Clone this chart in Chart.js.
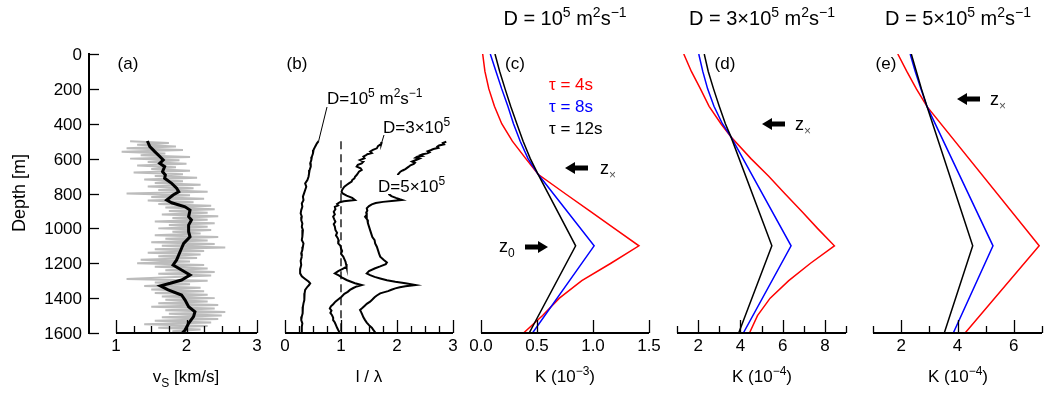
<!DOCTYPE html>
<html>
<head>
<meta charset="utf-8">
<script src="https://cdn.jsdelivr.net/npm/chart.js@4.4.1/dist/chart.umd.min.js"></script>
<style>
  body { margin: 0; background: #fff; }
  #wrap { position: relative; width: 1050px; height: 394px; }
  #wrap canvas { position: absolute; left: 0; top: 0; }
</style>
</head>
<body>
<div id="wrap">
  <canvas id="pa" width="1050" height="394"></canvas>
  <canvas id="pb" width="1050" height="394"></canvas>
  <canvas id="pc" width="1050" height="394"></canvas>
  <canvas id="pd" width="1050" height="394"></canvas>
  <canvas id="pe" width="1050" height="394"></canvas>
</div>
<script>
// ---- data (depth in m) ----
const depthMin = 0;
const depthMax = 1600;

// (a) shear-wave velocity: raw log (grey) and smoothed (black)
const vsLogDepth = [500,510,520,530,540,550,560,570,580,590,600,610,620,630,640,650,660,670,680,690,
  700,710,720,730,740,750,760,770,780,790,800,810,820,830,840,850,860,870,880,890,
  900,910,920,930,940,950,960,970,980,990,1000,1010,1020,1030,1040,1050,1060,1070,1080,1090,
  1100,1110,1120,1130,1140,1150,1160,1170,1180,1190,1200,1210,1220,1230,1240,1250,1260,1270,1280,1290,
  1300,1310,1320,1330,1340,1350,1360,1370,1380,1390,1400,1410,1420,1430,1440,1450,1460,1470,1480,1490,
  1500,1510,1520,1530,1540,1550,1560,1570,1580,1590,1600];
const vsLog = [1.20,1.75,1.30,1.85,1.15,1.95,1.08,1.70,1.35,2.05,1.20,1.90,1.45,2.00,1.30,1.85,1.50,2.05,1.25,1.95,
  1.55,2.15,1.40,1.95,1.55,2.20,1.45,2.10,1.60,2.30,1.15,2.05,1.50,2.25,1.45,2.10,1.60,2.35,1.70,2.40,
  1.75,2.30,1.65,2.45,1.80,2.30,1.55,2.40,1.75,2.30,1.60,2.35,1.80,2.20,1.55,2.45,1.70,2.30,1.50,2.40,
  1.65,2.55,1.55,2.25,1.45,2.20,1.60,2.15,1.35,2.05,1.30,2.25,1.55,2.30,1.70,2.40,1.60,2.35,1.75,1.15,
  2.30,1.55,2.05,1.40,2.20,1.50,2.25,1.55,2.30,1.65,2.40,1.70,2.30,1.60,2.45,1.50,2.40,1.70,2.55,1.75,
  2.50,1.65,2.45,1.55,2.35,1.40,2.30,1.60,2.20,1.80,2.05];
const vsSmoothDepth = [499,531,560,589,608,627,646,675,694,713,742,770,790,809,837,853,876,895,933,952,981,
  1019,1048,1086,1114,1181,1210,1239,1267,1296,1315,1330,1353,1382,1411,1449,1478,1506,1544,1583,1600];
const vsSmooth = [1.445,1.48,1.55,1.625,1.67,1.62,1.69,1.66,1.70,1.69,1.79,1.86,1.89,1.81,1.72,1.79,1.98,2.05,2.03,2.07,2.03,
  2.03,2.05,1.96,1.93,1.86,1.81,1.93,2.05,1.93,1.77,1.63,1.74,1.93,1.98,2.03,2.12,2.10,2.03,1.98,1.94];

// (b) l / lambda for three diffusivities, [depth, value]
const lamD1 = [[500,0.60],[512,0.57],[530,0.54],[550,0.51],[570,0.50],[589,0.48],[608,0.47],[627,0.45],[646,0.46],[665,0.44],
  [685,0.43],[704,0.42],[723,0.40],[742,0.36],[761,0.38],[780,0.36],[799,0.34],[818,0.32],[838,0.33],[857,0.30],
  [876,0.31],[895,0.29],[914,0.28],[933,0.30],[952,0.29],[972,0.31],[991,0.30],[1010,0.32],[1029,0.31],[1048,0.31],
  [1067,0.30],[1086,0.33],[1105,0.32],[1124,0.31],[1143,0.29],[1162,0.30],[1186,0.28],[1210,0.29],[1234,0.27],[1258,0.27],
  [1275,0.30],[1290,0.36],[1305,0.42],[1315,0.45],[1325,0.43],[1335,0.40],[1353,0.36],[1372,0.35],[1392,0.34],[1411,0.35],
  [1430,0.33],[1449,0.32],[1468,0.31],[1487,0.32],[1506,0.30],[1526,0.29],[1545,0.31],[1564,0.30],[1583,0.30],[1600,0.30]];
const lamD3 = [[505,1.73],[515,1.72],[528,1.66],[541,1.64],[550,1.57],[560,1.52],[568,1.55],[575,1.47],[582,1.44],[589,1.40],
  [598,1.42],[608,1.34],[617,1.40],[627,1.37],[636,1.30],[646,1.28],[655,1.35],[665,1.37],[675,1.32],[685,1.30],
  [694,1.28],[704,1.25],[713,1.24],[723,1.20],[732,1.19],[742,1.14],[751,1.10],[761,1.06],[770,1.04],[780,1.02],
  [790,1.01],[800,1.03],[812,1.10],[825,1.20],[837,1.25],[845,1.05],[850,0.98],[860,0.93],[868,0.95],[876,0.89],
  [890,0.90],[905,0.87],[920,0.89],[933,0.86],[948,0.88],[962,0.90],[976,0.87],[990,0.89],[1009,0.90],[1025,0.93],
  [1040,0.91],[1055,0.94],[1070,0.96],[1086,0.95],[1100,0.99],[1115,1.00],[1130,1.02],[1146,1.00],[1162,1.04],[1176,1.06],
  [1190,1.08],[1205,1.09],[1220,1.10],[1232,1.03],[1245,0.95],[1258,0.89],[1270,0.96],[1282,1.02],[1296,1.10],[1306,1.18],
  [1315,1.25],[1325,1.37],[1333,1.28],[1342,1.22],[1353,1.16],[1364,1.12],[1375,1.06],[1392,1.01],[1405,0.96],[1420,0.90],
  [1435,0.86],[1447,0.82],[1459,0.80],[1472,0.83],[1485,0.81],[1498,0.84],[1512,0.86],[1526,0.86],[1540,0.89],[1555,0.91],
  [1570,0.93],[1583,0.95],[1600,0.98]];
const lamD5 = [[503,2.88],[510,2.82],[518,2.84],[525,2.75],[531,2.72],[538,2.74],[545,2.65],[552,2.60],[558,2.55],[564,2.58],
  [570,2.54],[575,2.46],[580,2.42],[585,2.45],[589,2.36],[595,2.33],[600,2.40],[608,2.34],[617,2.27],[624,2.32],
  [630,2.30],[638,2.24],[646,2.21],[653,2.18],[660,2.15],[668,2.10],[675,2.06],[690,2.02],[710,2.00],[730,1.98],
  [750,1.95],[770,1.92],[790,1.88],[805,1.86],[815,1.90],[825,1.98],[833,2.05],[837,2.09],[842,1.95],[848,1.75],
  [855,1.62],[862,1.55],[872,1.50],[885,1.46],[898,1.47],[910,1.45],[922,1.46],[933,1.43],[950,1.47],[970,1.48],
  [990,1.50],[1010,1.52],[1030,1.54],[1050,1.56],[1068,1.60],[1086,1.61],[1105,1.64],[1125,1.66],[1145,1.68],[1162,1.70],
  [1180,1.76],[1195,1.82],[1205,1.80],[1218,1.70],[1230,1.60],[1245,1.50],[1258,1.46],[1268,1.52],[1278,1.60],[1287,1.70],
  [1297,1.82],[1306,1.97],[1315,2.15],[1325,2.33],[1332,2.15],[1338,2.05],[1344,1.97],[1352,1.90],[1360,1.84],[1367,1.76],
  [1373,1.70],[1385,1.64],[1395,1.60],[1408,1.56],[1420,1.52],[1433,1.46],[1445,1.42],[1457,1.38],[1468,1.34],[1480,1.36],
  [1495,1.38],[1510,1.40],[1526,1.43],[1540,1.46],[1555,1.50],[1570,1.55],[1583,1.58],[1600,1.62]];
const lamRef = [[500,1],[1600,1]];

// (c) D = 1e5, K in 1e-3
const cRedDepth = [0,100,200,300,400,500,600,690,800,900,1000,1100,1200,1300,1400,1500,1600];
const cRed = [0.015,0.035,0.07,0.12,0.185,0.28,0.40,0.51,0.75,0.97,1.19,1.41,1.16,0.90,0.70,0.55,0.38];
const cBlueDepth = [0,100,200,300,400,500,600,690,1100,1600];
const cBlue = [0.083,0.134,0.185,0.24,0.29,0.35,0.42,0.51,1.01,0.46];
const cBlackDepth = [0,100,200,300,400,500,600,690,1100,1600];
const cBlack = [0.125,0.167,0.215,0.265,0.32,0.376,0.44,0.51,0.845,0.43];

// (d) D = 3e5, K in 1e-4
const dRedDepth = [0,100,200,300,400,474,600,700,800,900,1000,1100,1200,1300,1400,1500,1600];
const dRed = [1.32,1.68,2.11,2.52,3.08,3.55,4.50,5.33,6.10,6.89,7.65,8.45,7.32,6.29,5.41,4.81,4.43];
const dBlueDepth = [0,100,200,300,400,474,1100,1600];
const dBlue = [2.03,2.22,2.45,2.75,3.15,3.55,6.40,4.14];
const dBlackDepth = [0,100,200,300,400,474,1100,1600];
const dBlack = [2.29,2.48,2.73,3.0,3.29,3.55,5.49,3.92];

// (e) D = 5e5, K in 1e-4
const eRedDepth = [0,100,200,302,1100,1600];
const eRed = [1.88,2.20,2.54,2.92,6.90,4.27];
const eBlueDepth = [0,100,200,302,1100,1600];
const eBlue = [2.32,2.50,2.70,2.92,5.26,3.85];
const eBlackDepth = [0,100,200,302,1100,1600];
const eBlack = [2.36,2.54,2.72,2.92,4.54,3.53];

// ---- helpers ----
const FONT = '"Liberation Sans", Arial, Helvetica, sans-serif';
const RED = '#ff0000', BLUE = '#0000ff', GREY = '#bcbcbc';

const fromArrays = (depths, vals) => depths.map((d, i) => ({x: vals[i], y: d}));
const fromPairs = pairs => pairs.map(p => ({x: p[1], y: p[0]}));

function line(data, color, width, extra) {
  return Object.assign({data, borderColor: color, borderWidth: width, showLine: true,
    pointRadius: 0, fill: false, tension: 0}, extra || {});
}

// text with super/subscripts: parts = [[text, shift]], shift 1 = sup, -1 = sub
function rich(ctx, x, y, parts, size, align, color) {
  ctx.save();
  ctx.textBaseline = 'alphabetic';
  ctx.textAlign = 'left';
  const small = Math.round(size * 0.68);
  const fontOf = p => (p[1] ? small : size) + 'px ' + FONT;
  let w = 0;
  parts.forEach(p => { ctx.font = fontOf(p); w += ctx.measureText(p[0]).width; });
  let cx = align === 'center' ? x - w / 2 : align === 'right' ? x - w : x;
  parts.forEach(p => {
    ctx.font = fontOf(p);
    ctx.fillStyle = p[2] || color || '#000';
    const dy = p[1] === 1 ? -size * 0.42 : p[1] === -1 ? size * 0.28 : 0;
    ctx.fillText(p[0], cx, y + dy);
    cx += ctx.measureText(p[0]).width;
  });
  ctx.restore();
  return w;
}

function arrow(ctx, tail, head, y) {
  const dir = Math.sign(head - tail);
  const hl = 10, hw = 6, sw = 2.5;
  ctx.save();
  ctx.fillStyle = '#000';
  ctx.beginPath();
  ctx.moveTo(tail, y - sw);
  ctx.lineTo(head - dir * hl, y - sw);
  ctx.lineTo(head - dir * hl, y - hw);
  ctx.lineTo(head, y);
  ctx.lineTo(head - dir * hl, y + hw);
  ctx.lineTo(head - dir * hl, y + sw);
  ctx.lineTo(tail, y + sw);
  ctx.closePath();
  ctx.fill();
  ctx.restore();
}

function zLabel(ctx, x, y, sub) {
  rich(ctx, x, y, [['z', 0], [sub, -1, sub === '\u00d7' ? '#555' : '#000']], 18, 'left');
}

// per-panel axis style and annotations
const frames = {
  pa: {
    yAxisAt: 89,
    major: v => Number.isInteger(v),
    draw(ctx, x, y) {
      rich(ctx, 128, 69, [['(a)', 0]], 17, 'center');
      rich(ctx, 186, 382, [['v', 0], ['S', -1], [' [km/s]', 0]], 17, 'center');
      ctx.save();
      ctx.translate(20, 193);
      ctx.rotate(-Math.PI / 2);
      ctx.font = '18px ' + FONT;
      ctx.fillStyle = '#000';
      ctx.textAlign = 'center';
      ctx.textBaseline = 'middle';
      ctx.fillText('Depth [m]', 0, 0);
      ctx.restore();
    }
  },
  pb: {
    major: v => Number.isInteger(v),
    draw(ctx, x, y) {
      rich(ctx, 297, 69, [['(b)', 0]], 17, 'center');
      rich(ctx, 369, 382, [['l / \u03bb', 0]], 17, 'center');
      ctx.save();
      ctx.strokeStyle = '#000';
      ctx.lineWidth = 1;
      ctx.beginPath();
      ctx.moveTo(x.getPixelForValue(lamD1[0][1]), y.getPixelForValue(lamD1[0][0]));
      ctx.lineTo(327, 107);
      ctx.moveTo(x.getPixelForValue(lamD3[0][1]), y.getPixelForValue(lamD3[0][0]));
      ctx.lineTo(384, 135);
      ctx.stroke();
      ctx.fillStyle = '#fff';
      ctx.fillRect(377, 175, 70, 19);
      ctx.restore();
      rich(ctx, 327, 104, [['D=10', 0], ['5', 1], [' m', 0], ['2', 1], ['s', 0], ['\u22121', 1]], 17, 'left');
      rich(ctx, 383, 133, [['D=3\u00d710', 0], ['5', 1]], 17, 'left');
      rich(ctx, 378, 192, [['D=5\u00d710', 0], ['5', 1]], 17, 'left');
    }
  },
  pc: {
    major: () => true,
    draw(ctx, x, y) {
      rich(ctx, 565, 25, [['D = 10', 0], ['5', 1], [' m', 0], ['2', 1], ['s', 0], ['\u22121', 1]], 20, 'center');
      rich(ctx, 515, 69, [['(c)', 0]], 17, 'center');
      rich(ctx, 549, 90, [['\u03c4 = 4s', 0]], 17, 'left', RED);
      rich(ctx, 549, 112, [['\u03c4 = 8s', 0]], 17, 'left', BLUE);
      rich(ctx, 549, 134, [['\u03c4 = 12s', 0]], 17, 'left', '#000');
      arrow(ctx, 588, 565, 168);
      zLabel(ctx, 600, 174, '\u00d7');
      arrow(ctx, 525, 548, 247);
      zLabel(ctx, 499, 252, '0');
      rich(ctx, 565, 382, [['K (10', 0], ['\u22123', 1], [')', 0]], 17, 'center');
    }
  },
  pd: {
    major: v => v % 2 === 0,
    draw(ctx, x, y) {
      rich(ctx, 762, 25, [['D = 3\u00d710', 0], ['5', 1], [' m', 0], ['2', 1], ['s', 0], ['\u22121', 1]], 20, 'center');
      rich(ctx, 725, 69, [['(d)', 0]], 17, 'center');
      arrow(ctx, 785, 762, 124);
      zLabel(ctx, 795, 130, '\u00d7');
      rich(ctx, 762, 382, [['K (10', 0], ['\u22124', 1], [')', 0]], 17, 'center');
    }
  },
  pe: {
    major: v => v % 2 === 0,
    draw(ctx, x, y) {
      rich(ctx, 958, 25, [['D = 5\u00d710', 0], ['5', 1], [' m', 0], ['2', 1], ['s', 0], ['\u22121', 1]], 20, 'center');
      rich(ctx, 886, 69, [['(e)', 0]], 17, 'center');
      arrow(ctx, 980, 957, 99);
      zLabel(ctx, 990, 105, '\u00d7');
      rich(ctx, 958, 382, [['K (10', 0], ['\u22124', 1], [')', 0]], 17, 'center');
    }
  }
};

// detached axes with inward ticks, drawn from the chart's own scales
const framePlugin = {
  id: 'frame',
  afterDraw(chart) {
    const {ctx, scales: {x, y}} = chart;
    const cfg = frames[chart.canvas.id];
    const yb = y.getPixelForValue(depthMax);
    ctx.save();
    ctx.strokeStyle = '#000';
    ctx.lineWidth = 2;
    ctx.beginPath();
    ctx.moveTo(x.getPixelForValue(x.min), yb);
    ctx.lineTo(x.getPixelForValue(x.max), yb);
    ctx.stroke();
    ctx.lineWidth = 1.3;
    x.ticks.forEach(t => {
      const px = Math.round(x.getPixelForValue(t.value)) + 0.5;
      const len = cfg.major(t.value) ? 13 : 7;
      ctx.beginPath();
      ctx.moveTo(px, yb);
      ctx.lineTo(px, yb - len);
      ctx.stroke();
    });
    if (cfg.yAxisAt) {
      const xa = cfg.yAxisAt;
      ctx.lineWidth = 2;
      ctx.beginPath();
      ctx.moveTo(xa, y.getPixelForValue(depthMin) - 1);
      ctx.lineTo(xa, yb + 1);
      ctx.stroke();
      ctx.lineWidth = 1.3;
      ctx.font = '17px ' + FONT;
      ctx.fillStyle = '#000';
      ctx.textAlign = 'right';
      ctx.textBaseline = 'middle';
      y.ticks.forEach(t => {
        const py = Math.round(y.getPixelForValue(t.value)) + 0.5;
        ctx.beginPath();
        ctx.moveTo(xa, py);
        ctx.lineTo(xa + 10, py);
        ctx.stroke();
        ctx.fillText(String(t.value), xa - 7, py + 1);
      });
    }
    cfg.draw(ctx, x, y);
    ctx.restore();
  }
};

function panel(id, left, right, xs, datasets) {
  return new Chart(document.getElementById(id), {
    type: 'scatter',
    data: {datasets},
    options: {
      responsive: false,
      animation: false,
      events: [],
      layout: {padding: {left: left, right: 1050 - right, top: 54, bottom: 0}},
      plugins: {legend: {display: false}, tooltip: {enabled: false}},
      scales: {
        x: {
          type: 'linear', position: 'bottom', min: xs.min, max: xs.max,
          grid: {display: false, drawTicks: false}, border: {display: false},
          ticks: {stepSize: xs.step, autoSkip: false, maxRotation: 0, padding: 3, color: '#000',
            font: {family: FONT, size: 17}, callback: xs.label},
          afterFit: s => { s.height = 61; }
        },
        y: {
          type: 'linear', reverse: true, min: depthMin, max: depthMax, display: false,
          ticks: {stepSize: 200}
        }
      }
    },
    plugins: [framePlugin]
  });
}

const intLabel = v => (Number.isInteger(v) ? String(v) : '');
const evenLabel = v => (v % 2 === 0 ? String(v) : '');

// note: the first dataset is drawn on top
panel('pa', 116, 257, {min: 1, max: 3, step: 0.25, label: intLabel}, [
  line(fromArrays(vsSmoothDepth, vsSmooth), '#000', 3),
  line(fromArrays(vsLogDepth, vsLog), GREY, 2)
]);

panel('pb', 285, 453, {min: 0, max: 3, step: 0.25, label: intLabel}, [
  line(fromPairs(lamRef), '#000', 1.3, {borderDash: [8, 5]}),
  line(fromPairs(lamD1), '#000', 2),
  line(fromPairs(lamD3), '#000', 2),
  line(fromPairs(lamD5), '#000', 2)
]);

panel('pc', 481, 649, {min: 0, max: 1.5, step: 0.5, label: v => v.toFixed(1)}, [
  line(fromArrays(cBlackDepth, cBlack), '#000', 1.5),
  line(fromArrays(cBlueDepth, cBlue), BLUE, 1.5),
  line(fromArrays(cRedDepth, cRed), RED, 1.5)
]);

panel('pd', 677, 846, {min: 1, max: 9, step: 1, label: evenLabel}, [
  line(fromArrays(dBlackDepth, dBlack), '#000', 1.5),
  line(fromArrays(dBlueDepth, dBlue), BLUE, 1.5),
  line(fromArrays(dRedDepth, dRed), RED, 1.5)
]);

panel('pe', 873, 1042, {min: 1, max: 7, step: 1, label: evenLabel}, [
  line(fromArrays(eBlackDepth, eBlack), '#000', 1.5),
  line(fromArrays(eBlueDepth, eBlue), BLUE, 1.5),
  line(fromArrays(eRedDepth, eRed), RED, 1.5)
]);
</script>
</body>
</html>
